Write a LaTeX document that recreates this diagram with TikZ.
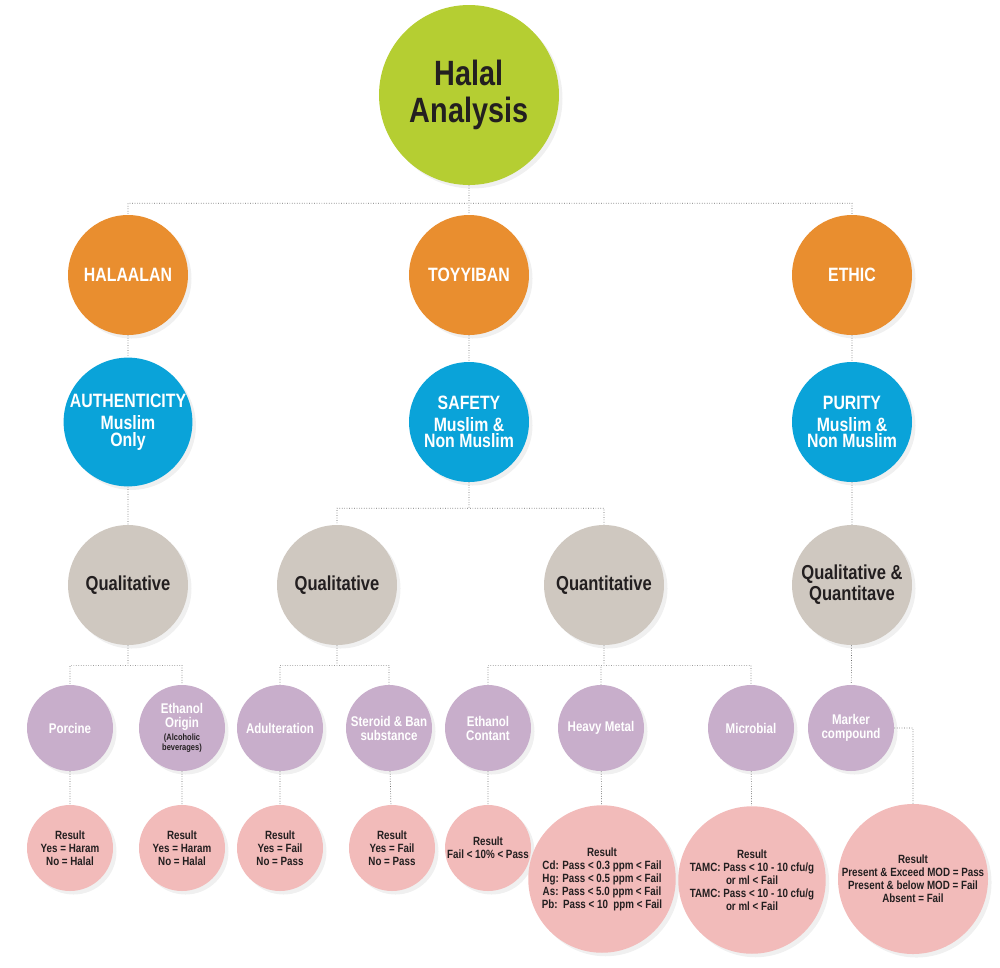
\documentclass[tikz,border=0pt]{standalone}
\usepackage{fontspec}
\setmainfont{Liberation Sans}[FakeStretch=0.82]
\usetikzlibrary{shadows}
\definecolor{halalgreen}{HTML}{B5CE32}
\definecolor{pillarorange}{HTML}{E98E2F}
\definecolor{aspectblue}{HTML}{0AA3D9}
\definecolor{methodgrey}{HTML}{CFC8C0}
\definecolor{testpurple}{HTML}{C8AECB}
\definecolor{resultpink}{HTML}{F2BBBA}
\definecolor{inkdark}{HTML}{231F20}
\newcommand{\smallnote}[1]{\textcolor{inkdark}{\fontsize{5.2}{5.6}\selectfont #1}}

\tikzset{
  bubble/.style={circle, draw=none, inner sep=0pt, align=center,
    drop shadow={opacity=0.12, shadow xshift=2pt, shadow yshift=-2pt}},
  top/.style={bubble, fill=halalgreen, minimum size=3.6cm, text=inkdark,
    font=\bfseries\fontsize{20}{21}\selectfont},
  pillar/.style={bubble, fill=pillarorange, minimum size=2.4cm, text=white,
    font=\bfseries\fontsize{11}{11}\selectfont},
  aspect/.style={bubble, fill=aspectblue, minimum size=2.4cm, text=white,
    font=\bfseries\fontsize{11}{9.5}\selectfont},
  method/.style={bubble, fill=methodgrey, minimum size=2.4cm, text=inkdark,
    font=\bfseries\fontsize{11.5}{12}\selectfont},
  test/.style={bubble, fill=testpurple, minimum size=1.72cm, text=white,
    font=\bfseries\fontsize{8}{8}\selectfont},
  result/.style={bubble, fill=resultpink, minimum size=1.72cm, text=inkdark,
    font=\bfseries\fontsize{6.8}{7.4}\selectfont},
  bigresult/.style={result, minimum size=2.95cm},
  link/.style={draw=gray!80!black, densely dotted, thin}
}

\begin{document}
\begin{tikzpicture}[x=0.02cm, y=-0.02cm]
    \useasboundingbox (0,0) rectangle (1000,967);
    %% Top
    \node[top] (halal) at (469,95) {Halal\\Analysis};
    %% Pillars
    \node[pillar] (halaalan) at (128,275) {HALAALAN};
    \node[pillar] (toyyiban) at (469,275) {TOYYIBAN};
    \node[pillar] (ethic) at (852,275) {ETHIC};
    %% Aspects
    \node[aspect] (authenticity) at (128,422) {AUTHENTICITY\\[3pt]Muslim\\Only};
    \node[aspect] (safety) at (469,422) {SAFETY\\[3pt]Muslim \&\\Non Muslim};
    \node[aspect] (purity) at (852,422) {PURITY\\[3pt]Muslim \&\\Non Muslim};
    %% Methods
    \node[method] (qual-a) at (128,585) {Qualitative};
    \node[method] (qual-b) at (337,585) {Qualitative};
    \node[method] (quant) at (604,585) {Quantitative};
    \node[method] (qualquant) at (852,585) {Qualitative \&\\Quantitave};
    %% Tests
    \node[test] (porcine) at (70,728) {Porcine};
    \node[test] (ethanol) at (182,728)
      {Ethanol\\Origin\\[-1pt]\smallnote{(Alcoholic}\\[-2pt]\smallnote{beverages)}};
    \node[test] (adulter) at (280,728) {Adulteration};
    \node[test] (steroid) at (389,728) {Steroid \& Ban\\substance};
    \node[test] (contant) at (488,728) {Ethanol\\Contant};
    \node[test] (metal) at (601,728) {Heavy Metal};
    \node[test] (microbial) at (751,728) {Microbial};
    \node[test] (marker) at (851,728) {Marker\\compound};
    %% Results
    \node[result] (r-porcine) at (70,848) {Result\\Yes = Haram\\No = Halal};
    \node[result] (r-ethanol) at (182,848) {Result\\Yes = Haram\\No = Halal};
    \node[result] (r-adulter) at (280,848) {Result\\Yes = Fail\\No = Pass};
    \node[result] (r-steroid) at (392,848) {Result\\Yes = Fail\\No = Pass};
    \node[result] (r-contant) at (488,848) {Result\\Fail < 10\% < Pass};
    \node[bigresult] (r-metal) at (602,879)
      {Result\\Cd: Pass < 0.3 ppm < Fail\\Hg: Pass < 0.5 ppm < Fail\\As: Pass < 5.0 ppm < Fail\\Pb:\ \ Pass < 10\ \ ppm < Fail};
    \node[bigresult] (r-microbial) at (752,880)
      {Result\\TAMC: Pass < 10 - 10 cfu/g\\or ml < Fail\\TAMC: Pass < 10 - 10 cfu/g\\or ml < Fail};
    \node[bigresult] (r-marker) at (913,879)
      {Result\\Present \& Exceed MOD = Pass\\Present \& below MOD = Fail\\Absent = Fail};

    %% Connectors
    \draw[link]
    (halal.south) -- ++(0,18) -| (halaalan.north)
    (halal.south) -- ++(0,18) -| (ethic.north)
    (halal.south) -- (toyyiban.north)
    (halaalan) -- (authenticity)
    (toyyiban) -- (safety)
    (ethic) -- (purity)
    (authenticity) -- (qual-a)
    (safety.south) -- ++(0,26) -| (qual-b.north)
    (safety.south) -- ++(0,26) -| (quant.north)
    (purity) -- (qualquant)
    (qual-a.south) -- ++(0,20) -| (porcine.north)
    (qual-a.south) -- ++(0,20) -| (ethanol.north)
    (qual-b.south) -- ++(0,20) -| (adulter.north)
    (qual-b.south) -- ++(0,20) -| (steroid.north)
    (quant.south) -- ++(0,20) -| (contant.north)
    (quant.south) -- ++(0,20) -| (metal.north)
    (quant.south) -- ++(0,20) -| (microbial.north)
    (qualquant) -- (marker)
    (porcine) -- (r-porcine)
    (ethanol) -- (r-ethanol)
    (adulter) -- (r-adulter)
    (steroid) -- (r-steroid)
    (contant) -- (r-contant)
    (metal) -- (r-metal)
    (microbial) -- (r-microbial)
    (marker.east) -| (r-marker.north)
    ;
\end{tikzpicture}
\end{document}
